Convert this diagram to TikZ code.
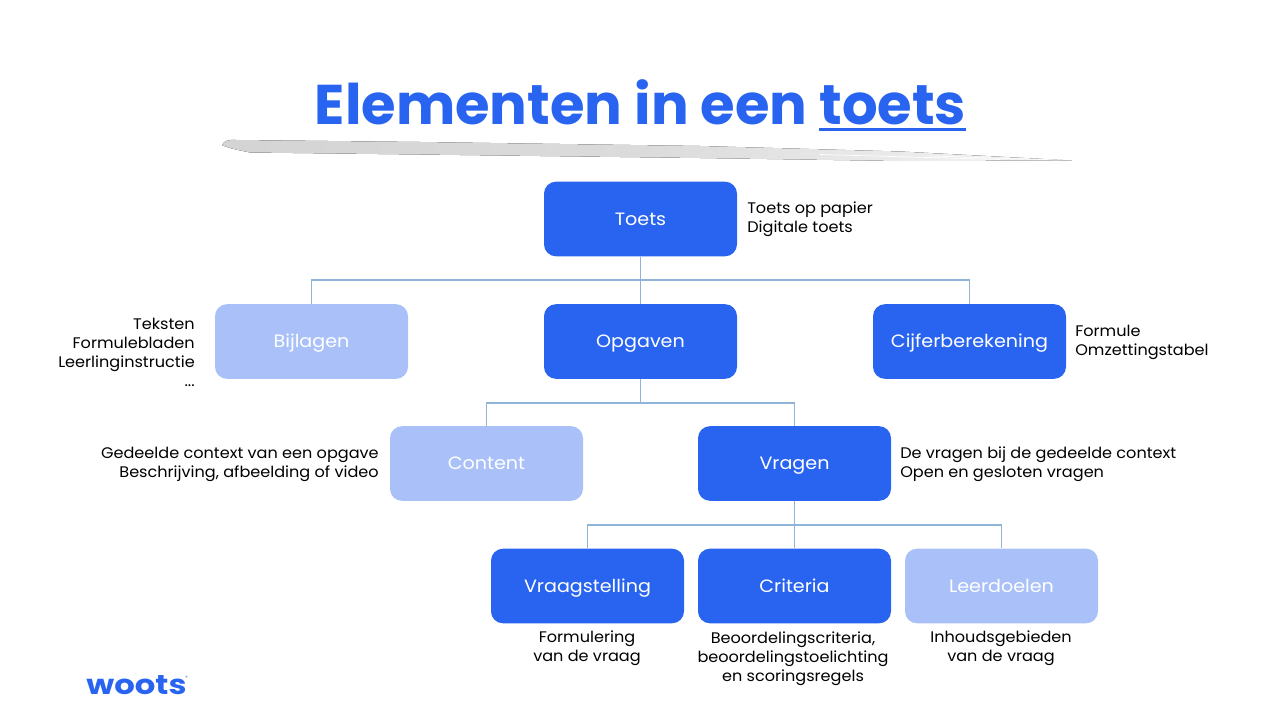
\documentclass[tikz,border=0pt]{standalone}
\usepackage{fontspec}
\setmainfont{Poppins}
\newfontfamily\widefont[FakeStretch=1.07]{Poppins}
\newfontfamily\notefont[FakeStretch=1.05]{Poppins}
\newfontfamily\logofont[FakeStretch=1.18]{Poppins}
\definecolor{wootsblue}{HTML}{2864F0}
\definecolor{wootslight}{HTML}{A9C1F8}
\definecolor{busline}{HTML}{8FB4D9}
\newcommand\thickul[1]{\setbox0\hbox{#1}\rlap{\rule[-4.9pt]{\wd0}{1.9pt}}\box0}
\tikzset{
  elem/.style={rounded corners=9pt, fill=wootsblue, text=white, minimum width=144.75pt, minimum height=56pt, inner sep=0pt, text height=10pt, text depth=1pt, font=\widefont\fontsize{13.4}{16}\selectfont},
  elemlight/.style={elem, fill=wootslight},
  bus/.style={busline, line width=.8pt},
  note/.style={inner sep=0pt, font=\notefont\fontsize{11.5}{14.25}\selectfont, text=black},
}
\begin{document}
\begin{tikzpicture}[x=.75pt,y=-.75pt]
        \useasboundingbox (0,0) rectangle (1280,720);

        % title and brush stroke
        \node[inner sep=0pt, text=wootsblue, font=\fontsize{42}{48}\selectfont\bfseries] (title) at (640.5,105) {Elementen in een \thickul{toets}};
        \fill[left color=black!17, right color=black!4, middle color=black!14] (222,145) .. controls (224,141) and (228,139.5) .. (236,140) -- (420,142) -- (700,146) -- (900,151.5) -- (1072,160.5) -- (900,161) -- (700,158) -- (420,154.5) -- (250,152.5) .. controls (238,150) and (228,148) .. (222,145) -- cycle;
        \draw[white, line width=.5pt] (820,154.5) -- (1000,159.5);
        \draw[white, line width=.4pt] (930,156) -- (1060,160);

        % boxes
        \node[elem] (toets) at (640.5,219) {Toets};
        \node[elemlight] (bijlagen) at (311.5,341.5) {Bijlagen};
        \node[elem] (opgaven) at (640.5,341.5) {Opgaven};
        \node[elem] (cijfer) at (969.5,341.5) {Cijferberekening};
        \node[elemlight] (content) at (486.5,463.5) {Content};
        \node[elem] (vragen) at (794.5,463.5) {Vragen};
        \node[elem] (vraagstelling) at (587.5,586) {Vraagstelling};
        \node[elem] (criteria) at (794.5,586) {Criteria};
        \node[elemlight] (leerdoelen) at (1001.5,586) {Leerdoelen};

        % connectors
        \coordinate (busa) at (640.5,280);
        \coordinate (busb) at (640.5,403);
        \coordinate (busc) at (794.5,525);
        \draw[bus] (toets) -- (opgaven);
        \draw[bus] (bijlagen) |- (busa) -| (cijfer);
        \draw[bus] (opgaven) -- (busb);
        \draw[bus] (content) |- (busb) -| (vragen);
        \draw[bus] (vragen) -- (criteria);
        \draw[bus] (vraagstelling) |- (busc) -| (leerdoelen);

        % side notes
        \node[note, anchor=west, align=left] (ntoets) at (747,219.5) {Toets op papier\\Digitale toets};
        \node[note, anchor=east, align=right] (nbijlagen) at (195,352) {Teksten\\Formulebladen\\Leerlinginstructie\\...};
        \node[note, anchor=west, align=left] (ncijfer) at (1075,342.5) {Formule\\Omzettingstabel};
        \node[note, anchor=east, align=right] (ncontent) at (379,464.5) {Gedeelde context van een opgave\\Beschrijving, afbeelding of video};
        \node[note, anchor=west, align=left] (nvragen) at (900,464.5) {De vragen bij de gedeelde context\\Open en gesloten vragen};
        \node[note, align=center] (nvraag) at (587,648.5) {Formulering\\van de vraag};
        \node[note, align=center] (ncriteria) at (793,658.5) {Beoordelingscriteria,\\beoordelingstoelichting\\en scoringsregels};
        \node[note, align=center] (nleer) at (1001,648.5) {Inhoudsgebieden\\van de vraag};

        % logo
        \node[inner sep=0pt, text=wootsblue, font=\logofont\fontsize{20.5}{24}\selectfont\bfseries] (logo) at (136.5,685.5) {woots};
        \node[inner sep=0pt, text=wootsblue, font=\fontsize{3.5}{4}\selectfont, anchor=west] (logor) at (185,678) {®};
\end{tikzpicture}
\end{document}
